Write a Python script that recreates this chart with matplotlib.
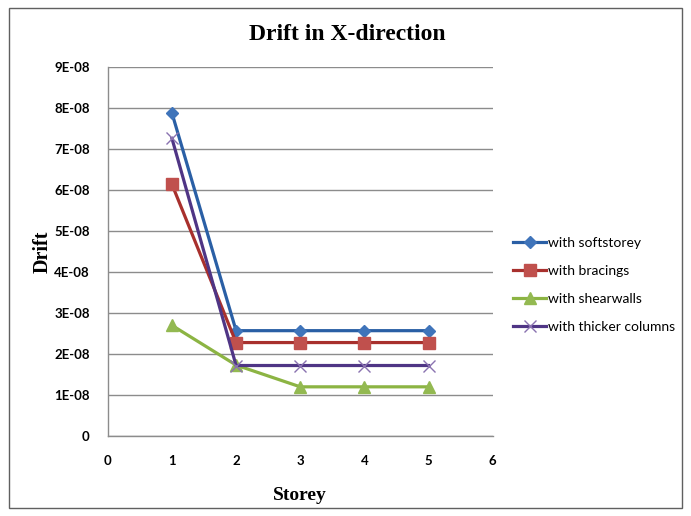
import matplotlib
matplotlib.use("Agg")
import matplotlib.pyplot as plt
from matplotlib.patches import Rectangle

storey = [1, 2, 3, 4, 5]
softstorey = [7.88e-08, 2.57e-08, 2.57e-08, 2.57e-08, 2.57e-08]
bracings = [6.14e-08, 2.28e-08, 2.28e-08, 2.28e-08, 2.28e-08]
shearwalls = [2.70e-08, 1.73e-08, 1.20e-08, 1.20e-08, 1.20e-08]
thicker_columns = [7.26e-08, 1.72e-08, 1.72e-08, 1.72e-08, 1.72e-08]

y_ticks = [0, 1e-08, 2e-08, 3e-08, 4e-08, 5e-08, 6e-08, 7e-08, 8e-08, 9e-08]
y_labels = ["0", "1E-08", "2E-08", "3E-08", "4E-08", "5E-08", "6E-08", "7E-08", "8E-08", "9E-08"]
x_ticks = [0, 1, 2, 3, 4, 5, 6]

tick_font = ["Lato", "DejaVu Sans"]

fig = plt.figure(figsize=(6.91, 5.16), dpi=100)
ax = fig.add_axes([0.156, 0.155, 0.557, 0.715])

# outer chart border
fig.patches.append(Rectangle((0.013, 0.016), 0.974, 0.968, transform=fig.transFigure,
                             fill=False, edgecolor="#606060", linewidth=1.0))

series = [
    (softstorey, "with softstorey", "#2A5FA5", "#3F74BA", "D", 6),
    (bracings, "with bracings", "#A8302D", "#C0504D", "s", 8),
    (shearwalls, "with shearwalls", "#8CB443", "#93B951", "^", 8),
    (thicker_columns, "with thicker columns", "#4F3585", "#8A72B0", "x", 9),
]
for vals, name, lc, mc, mk, ms in series:
    ax.plot(storey, vals, color=lc, linewidth=2.3, marker=mk, markersize=ms,
            markerfacecolor=mc, markeredgecolor=mc, markeredgewidth=1.0, label=name)

ax.set_xlim(0, 6)
ax.set_ylim(0, 9e-08)
ax.set_yticks(y_ticks)
ax.set_yticklabels(y_labels)
ax.set_xticks(x_ticks)
ax.grid(axis="y", color="#8C8C8C", linewidth=1.0)
ax.set_axisbelow(True)
for s in ["top", "right"]:
    ax.spines[s].set_visible(False)
for s in ["left", "bottom"]:
    ax.spines[s].set_color("#8C8C8C")
    ax.spines[s].set_linewidth(1.0)
ax.tick_params(length=0, labelsize=9.5)
ax.tick_params(axis="y", pad=13)
ax.tick_params(axis="x", pad=14)
for lab in ax.get_xticklabels() + ax.get_yticklabels():
    lab.set_family(tick_font)
    lab.set_fontweight("bold")

fig.text(0.503, 0.934, "Drift in X-direction", fontsize=17, fontweight="bold",
         family="Liberation Serif", ha="center", va="center")
ax.set_xlabel("Storey", fontsize=14, fontweight="bold", family="Liberation Serif", labelpad=14)
ax.set_ylabel("Drift", fontsize=14.5, fontweight="bold", family="Liberation Serif")
ax.yaxis.set_label_coords(-0.143, 0.5)

leg = ax.legend(loc="center left", bbox_to_anchor=(1.02, 0.41), frameon=False,
                handlelength=2.4, labelspacing=1.15, handletextpad=0.15,
                prop={"family": tick_font, "size": 10})

fig.savefig("out.png", dpi=100)
